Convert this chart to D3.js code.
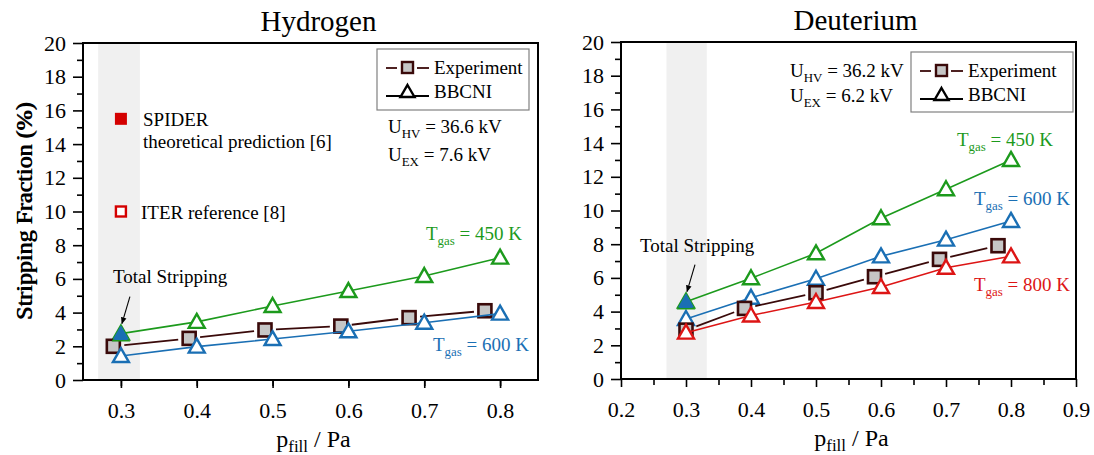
<!DOCTYPE html>
<html>
<head>
<meta charset="utf-8">
<script src="https://cdn.jsdelivr.net/npm/d3@7"></script>
<style>
  body { margin: 0; background: #fff; }
</style>
</head>
<body>
<div id="chart"></div>
<script>
// ---- data ----
var pressures = [0.3, 0.4, 0.5, 0.6, 0.7, 0.8];

// Hydrogen
var hExpP = [0.29, 0.39, 0.49, 0.59, 0.68, 0.78];
var hExpVal = [2.0, 2.47, 2.97, 3.2, 3.7, 4.11];
var hBbcni450 = [2.75, 3.45, 4.39, 5.28, 6.17, 7.26];
var hBbcni600 = [1.42, 1.98, 2.43, 2.89, 3.40, 3.94];
var hTotalStrip = 2.75;
var hSpiderVal = 15.5;
var hIterVal = 10.0;
var refP = 0.3;

// Deuterium
var dExpP = [0.30, 0.39, 0.50, 0.59, 0.69, 0.78];
var dExpVal = [2.9, 4.19, 5.12, 6.07, 7.1, 7.91];
var dBbcni450 = [4.59, 5.98, 7.46, 9.54, 11.26, 13.0];
var dBbcni600 = [3.56, 4.82, 5.95, 7.28, 8.27, 9.38];
var dBbcni800 = [2.75, 3.77, 4.57, 5.46, 6.6, 7.28];
var dTotalStrip = 4.59;

var yTicks = [0, 2, 4, 6, 8, 10, 12, 14, 16, 18, 20];
var hXTicks = [0.3, 0.4, 0.5, 0.6, 0.7, 0.8];
var dXTicks = [0.2, 0.3, 0.4, 0.5, 0.6, 0.7, 0.8, 0.9];

var GREEN = "#1c9a1c", BLUE = "#1a6fb4", RED = "#dd1515", EXP = "#3a0a0a";
var SERIF = "'Liberation Serif', 'Times New Roman', Times, serif";

var svg = d3.select("#chart").append("svg")
  .attr("width", 1094).attr("height", 455)
  .style("font-family", SERIF);

// arrowhead for "Total Stripping"
svg.append("defs").append("marker")
  .attr("id", "arrow")
  .attr("viewBox", "0 0 10 10")
  .attr("refX", 9).attr("refY", 5)
  .attr("markerWidth", 7).attr("markerHeight", 8)
  .attr("markerUnits", "userSpaceOnUse")
  .attr("orient", "auto")
  .append("path").attr("d", "M0,1 L10,5 L0,9 Z").attr("fill", "#000");

var triPath = "M0,-8 L8,6 L-8,6 Z";

function zip(xs, ys) {
  return xs.map(function (x, i) { return { p: x, v: ys[i] }; });
}

// text with a subscript, e.g. T_gas = 450 K
function subText(g, x, y, main, sub, rest, color, size) {
  var t = g.append("text").attr("x", x).attr("y", y)
    .style("font-size", size + "px").style("fill", color || "#000");
  t.append("tspan").text(main);
  t.append("tspan").attr("dy", 5).style("font-size", (size * 0.68) + "px").text(sub);
  t.append("tspan").attr("dy", -5).text(rest);
  return t;
}

function Panel(opts) {
  var vis = this;
  vis.o = opts;
  vis.g = svg.append("g").attr("transform", "translate(" + opts.left + "," + opts.top + ")");
  vis.width = opts.right - opts.left;
  vis.height = opts.bottom - opts.top;

  vis.x = d3.scaleLinear().domain(opts.xDomain).range([0, vis.width]);
  vis.y = d3.scaleLinear().domain([0, 20]).range([vis.height, 0]);

  // grey shaded band
  vis.g.append("rect")
    .attr("x", vis.x(opts.band[0]))
    .attr("width", vis.x(opts.band[1]) - vis.x(opts.band[0]))
    .attr("y", 0).attr("height", vis.height)
    .attr("fill", "#f0f0f0");

  vis.drawAxes();
}

Panel.prototype.drawAxes = function () {
  var vis = this;
  var o = vis.o;

  // minor ticks
  var yMinor = d3.range(1, 20, 2);
  vis.g.append("g").attr("class", "y-minor")
    .call(d3.axisLeft(vis.y).tickValues(yMinor).tickSize(6).tickFormat(""))
    .call(function (g) { g.select(".domain").remove(); });
  var xMinor = d3.range(o.xDomain[0] + 0.05, o.xDomain[1] + 0.001, 0.1);
  vis.g.append("g").attr("class", "x-minor")
    .attr("transform", "translate(0," + vis.height + ")")
    .call(d3.axisBottom(vis.x).tickValues(xMinor).tickSize(6).tickFormat(""))
    .call(function (g) { g.select(".domain").remove(); });

  // major ticks with labels
  var yAx = vis.g.append("g").attr("class", "y-axis")
    .call(d3.axisLeft(vis.y).tickValues(yTicks).tickSize(10).tickPadding(7).tickFormat(d3.format("d")));
  yAx.select(".domain").remove();

  var xAx = vis.g.append("g").attr("class", "x-axis")
    .attr("transform", "translate(0," + vis.height + ")")
    .call(d3.axisBottom(vis.x).tickValues(o.xTicks).tickSize(8).tickPadding(14).tickFormat(d3.format(".1f")));
  xAx.select(".domain").remove();

  vis.g.selectAll(".y-axis, .x-axis").attr("font-family", SERIF).attr("font-size", 22);
  vis.g.selectAll(".tick line").attr("stroke", "#000").attr("stroke-width", 1.6);

  // titles
  vis.g.append("text")
    .attr("x", vis.width / 2 + o.titleShift).attr("y", -12)
    .attr("text-anchor", "middle")
    .style("font-size", "29px")
    .text(o.title);

  vis.g.append("text")
    .attr("transform", "translate(" + (-vis.o.left + 32) + "," + (vis.height / 2) + ") rotate(-90)")
    .attr("text-anchor", "middle")
    .style("font-size", "24px")
    .text("Stripping Fraction (%)");

  var xl = vis.g.append("text")
    .attr("x", vis.width / 2 + 3).attr("y", vis.height + 67)
    .attr("text-anchor", "middle")
    .style("font-size", "24px");
  xl.append("tspan").text("p");
  xl.append("tspan").attr("dy", 5).style("font-size", "17px").text("fill");
  xl.append("tspan").attr("dy", -5).text(" / Pa");
};

Panel.prototype.frame = function () {
  var vis = this;
  vis.g.append("rect")
    .attr("x", 0).attr("y", 0)
    .attr("width", vis.width).attr("height", vis.height)
    .attr("fill", "none").attr("stroke", "#000").attr("stroke-width", 2);
};

Panel.prototype.bbcni = function (vals, color) {
  var vis = this;
  var pts = zip(pressures, vals);
  var line = d3.line()
    .x(function (d) { return vis.x(d.p); })
    .y(function (d) { return vis.y(d.v); });
  vis.g.append("path").datum(pts)
    .attr("d", line)
    .attr("fill", "none").attr("stroke", color).attr("stroke-width", 1.6);
  vis.g.selectAll(null).data(pts).enter().append("path")
    .attr("d", triPath)
    .attr("transform", function (d) { return "translate(" + vis.x(d.p) + "," + vis.y(d.v) + ")"; })
    .attr("fill", "#fff").attr("stroke", color).attr("stroke-width", 2.4)
    .attr("stroke-linejoin", "miter");
};

Panel.prototype.experiment = function (ps, vals) {
  var vis = this;
  var pts = zip(ps, vals);
  var gap = 11;
  // line segments leave a gap around each marker
  var segs = [];
  for (var i = 0; i < pts.length - 1; i++) {
    var x1 = vis.x(pts[i].p), y1 = vis.y(pts[i].v);
    var x2 = vis.x(pts[i + 1].p), y2 = vis.y(pts[i + 1].v);
    var len = Math.sqrt((x2 - x1) * (x2 - x1) + (y2 - y1) * (y2 - y1));
    var ux = (x2 - x1) / len, uy = (y2 - y1) / len;
    segs.push([x1 + ux * gap, y1 + uy * gap, x2 - ux * gap, y2 - uy * gap]);
  }
  vis.g.selectAll(null).data(segs).enter().append("line")
    .attr("x1", function (d) { return d[0]; }).attr("y1", function (d) { return d[1]; })
    .attr("x2", function (d) { return d[2]; }).attr("y2", function (d) { return d[3]; })
    .attr("stroke", EXP).attr("stroke-width", 1.8);
  vis.g.selectAll(null).data(pts).enter().append("rect")
    .attr("x", function (d) { return vis.x(d.p) - 6.5; })
    .attr("y", function (d) { return vis.y(d.v) - 6.5; })
    .attr("width", 13).attr("height", 13)
    .attr("fill", "#c6c6c6").attr("stroke", EXP).attr("stroke-width", 2.6);
};

Panel.prototype.totalStripping = function (val, tx, ty) {
  var vis = this;
  var cx = vis.x(0.3), cy = vis.y(val);
  vis.g.append("path")
    .attr("d", triPath)
    .attr("transform", "translate(" + cx + "," + (cy + 1) + ")")
    .attr("fill", BLUE).attr("stroke", GREEN).attr("stroke-width", 1.5);
  vis.g.append("path")
    .attr("d", "M0,-8.5 L8,5.5 L-8,5.5 Z")
    .attr("transform", "translate(" + cx + "," + cy + ")")
    .attr("fill", BLUE);
  vis.g.append("text")
    .attr("x", tx).attr("y", ty)
    .style("font-size", "19px")
    .text("Total Stripping");
  vis.g.append("line")
    .attr("x1", cx + 9).attr("y1", cy - 37)
    .attr("x2", cx + 1).attr("y2", cy - 10)
    .attr("stroke", "#000").attr("stroke-width", 1.1)
    .attr("marker-end", "url(#arrow)");
};

Panel.prototype.legend = function (bx, by, bw, bh) {
  var vis = this;
  var g = vis.g.append("g").attr("transform", "translate(" + bx + "," + by + ")");
  g.append("rect").attr("width", bw).attr("height", bh)
    .attr("fill", "#fff").attr("stroke", "#808080").attr("stroke-width", 1.2);
  // Experiment
  g.append("line").attr("x1", 9).attr("x2", 20).attr("y1", 19).attr("y2", 19)
    .attr("stroke", EXP).attr("stroke-width", 1.8);
  g.append("line").attr("x1", 40).attr("x2", 52).attr("y1", 19).attr("y2", 19)
    .attr("stroke", EXP).attr("stroke-width", 1.8);
  g.append("rect").attr("x", 25).attr("y", 13).attr("width", 11).attr("height", 11)
    .attr("fill", "#c6c6c6").attr("stroke", EXP).attr("stroke-width", 2.4);
  g.append("text").attr("x", 57).attr("y", 25).style("font-size", "19px").text("Experiment");
  // BBCNI
  g.append("line").attr("x1", 9).attr("x2", 52).attr("y1", 47).attr("y2", 47)
    .attr("stroke", "#000").attr("stroke-width", 1.8);
  g.append("path").attr("d", "M0,-7 L7,5 L-7,5 Z")
    .attr("transform", "translate(30.5,43)")
    .attr("fill", "#fff").attr("stroke", "#000").attr("stroke-width", 2.4);
  g.append("text").attr("x", 57).attr("y", 49).style("font-size", "19px").text("BBCNI");
};

// ---------------- Hydrogen ----------------
var hyd = new Panel({
  left: 83, right: 538, top: 43, bottom: 380,
  xDomain: [0.25, 0.85], xTicks: hXTicks, band: [0.27, 0.325],
  title: "Hydrogen", titleShift: 8
});
hyd.bbcni(hBbcni450, GREEN);
hyd.experiment(hExpP, hExpVal);
hyd.bbcni(hBbcni600, BLUE);
hyd.totalStripping(hTotalStrip, 30, 240);

// SPIDER and ITER reference points
hyd.g.append("rect")
  .attr("x", hyd.x(refP) - 6).attr("y", hyd.y(hSpiderVal) - 6)
  .attr("width", 12).attr("height", 12).attr("fill", "#d40000");
hyd.g.append("rect")
  .attr("x", hyd.x(refP) - 5).attr("y", hyd.y(hIterVal) - 5)
  .attr("width", 10).attr("height", 10)
  .attr("fill", "#fff").attr("stroke", "#d40000").attr("stroke-width", 2.4);
hyd.g.append("text").attr("x", 60).attr("y", 83).style("font-size", "19px").text("SPIDER");
hyd.g.append("text").attr("x", 60).attr("y", 105).style("font-size", "19px").text("theoretical prediction [6]");
hyd.g.append("text").attr("x", 58).attr("y", 176).style("font-size", "19px").text("ITER reference [8]");

subText(hyd.g, 305, 90, "U", "HV", " = 36.6 kV", "#000", 19);
subText(hyd.g, 305, 118, "U", "EX", "  = 7.6 kV", "#000", 19);
subText(hyd.g, 343, 197, "T", "gas", " = 450 K", GREEN, 19);
subText(hyd.g, 350, 308, "T", "gas", " = 600 K", BLUE, 19);
hyd.legend(294, 6, 152, 61);
hyd.frame();

// ---------------- Deuterium ----------------
var deu = new Panel({
  left: 621, right: 1076, top: 42, bottom: 379,
  xDomain: [0.2, 0.9], xTicks: dXTicks, band: [0.27, 0.332],
  title: "Deuterium", titleShift: 7
});
deu.bbcni(dBbcni450, GREEN);
deu.bbcni(dBbcni600, BLUE);
deu.experiment(dExpP, dExpVal);
deu.bbcni(dBbcni800, RED);
deu.totalStripping(dTotalStrip, 19, 210);

subText(deu.g, 169, 35, "U", "HV", " = 36.2 kV", "#000", 19);
subText(deu.g, 169, 60, "U", "EX", " = 6.2 kV", "#000", 19);
subText(deu.g, 336, 104, "T", "gas", " = 450 K", GREEN, 19);
subText(deu.g, 353, 163, "T", "gas", " = 600 K", BLUE, 19);
subText(deu.g, 353, 249, "T", "gas", " = 800 K", RED, 19);
deu.legend(290, 10, 162, 60);
deu.frame();

svg.selectAll("text").style("font-family", SERIF);
</script>
</body>
</html>
